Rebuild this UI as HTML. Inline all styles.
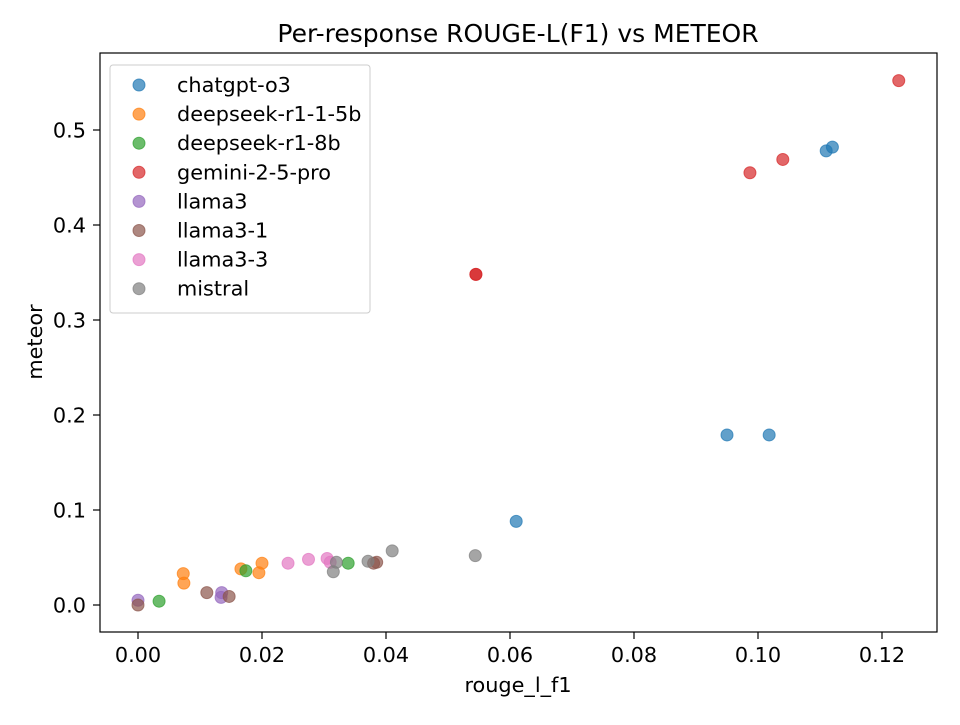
<!DOCTYPE html>
<html><head><meta charset="utf-8"><style>
body{margin:0;background:#fff;}
svg text{font-family:"DejaVu Sans","Liberation Sans",sans-serif;fill:#000;}
</style></head><body>
<svg id="chart" width="960" height="720" xmlns="http://www.w3.org/2000/svg">
<rect width="960" height="720" fill="#fff"/>
<text x="518" y="42" font-size="25" text-anchor="middle">Per-response ROUGE-L(F1) vs METEOR</text>
<g id="ticks"></g>
<g id="points"></g>
<rect x="100" y="53" width="837" height="579" fill="none" stroke="#000" stroke-width="1.2"/>
<text x="518" y="692" font-size="20.8" text-anchor="middle">rouge_l_f1</text>
<text transform="translate(42 342) rotate(-90)" font-size="20.8" text-anchor="middle">meteor</text>
<g id="legend"></g>
</svg>
<script>
const seriesNames=["chatgpt-o3","deepseek-r1-1-5b","deepseek-r1-8b","gemini-2-5-pro","llama3","llama3-1","llama3-3","mistral"];
const colors=["#1f77b4","#ff7f0e","#2ca02c","#d62728","#9467bd","#8c564b","#e377c2","#7f7f7f"];
const xChatgpt=[0.061,0.095,0.1018,0.111,0.112];
const yChatgpt=[0.088,0.179,0.179,0.478,0.482];
const xDs15=[0.0073,0.0074,0.0166,0.020,0.0195];
const yDs15=[0.033,0.023,0.038,0.044,0.034];
const xDs8=[0.0034,0.0174,0.0339];
const yDs8=[0.004,0.036,0.044];
const xGemini=[0.0545,0.0545,0.0987,0.104,0.1227];
const yGemini=[0.348,0.348,0.455,0.469,0.552];
const xLlama3=[0,0.0135,0.0134];
const yLlama3=[0.005,0.013,0.008];
const xLlama31=[0,0.0111,0.0147,0.0385,0.038];
const yLlama31=[0,0.013,0.009,0.045,0.044];
const xLlama33=[0.0242,0.0275,0.0305,0.031];
const yLlama33=[0.044,0.048,0.049,0.045];
const xMistral=[0.032,0.0315,0.0371,0.041,0.0544];
const yMistral=[0.045,0.035,0.046,0.057,0.052];
const xTicks=[0,0.02,0.04,0.06,0.08,0.10,0.12];
const xTickLabels=["0.00","0.02","0.04","0.06","0.08","0.10","0.12"];
const yTicks=[0,0.1,0.2,0.3,0.4,0.5];
const yTickLabels=["0.0","0.1","0.2","0.3","0.4","0.5"];
const seriesX=[xChatgpt,xDs15,xDs8,xGemini,xLlama3,xLlama31,xLlama33,xMistral];
const seriesY=[yChatgpt,yDs15,yDs8,yGemini,yLlama3,yLlama31,yLlama33,yMistral];

const NS="http://www.w3.org/2000/svg";
function sx(v){return 138+v*6200;}
function sy(v){return 605-v*950;}
function mk(tag,attrs,parent){const e=document.createElementNS(NS,tag);for(const k in attrs)e.setAttribute(k,attrs[k]);parent.appendChild(e);return e;}
const tg=document.getElementById('ticks');
xTicks.forEach((t,i)=>{
  const l=mk('line',{x1:sx(t),x2:sx(t),y1:632,y2:639,stroke:'#000','stroke-width':1.2},tg);
  
  
  const tx=mk('text',{x:sx(t),y:662,'font-size':20.8,'text-anchor':'middle'},tg);
  tx.textContent=xTickLabels[i];
  
  
});
yTicks.forEach((t,i)=>{
  const l=mk('line',{x1:93,x2:100,y1:sy(t),y2:sy(t),stroke:'#000','stroke-width':1.2},tg);
  
  
  const tx=mk('text',{x:86,y:sy(t)+7.5,'font-size':20.8,'text-anchor':'end'},tg);
  tx.textContent=yTickLabels[i];
  
  
});
const pg=document.getElementById('points');
seriesX.forEach((xs,s)=>{
  xs.forEach((x,i)=>{
    const c=mk('circle',{cx:sx(x),cy:sy(seriesY[s][i]),r:6,fill:colors[s],'fill-opacity':0.7,stroke:colors[s],'stroke-opacity':0.7,'stroke-width':1},pg);
    
    
  });
});
const lg=document.getElementById('legend');
const box=mk('rect',{x:110,y:65,width:260,height:248,rx:3,fill:'#fff','fill-opacity':0.8,stroke:'#ccc'},lg);


seriesNames.forEach((n,i)=>{
  const y=85+i*29.1;
  const c=mk('circle',{cx:139,cy:y,r:6,fill:colors[i],'fill-opacity':0.7,stroke:colors[i],'stroke-opacity':0.7},lg);
  
  
  const t=mk('text',{x:177,y:y+7,'font-size':20.8},lg);
  t.textContent=n;
  
  
});
</script>
</body></html>
